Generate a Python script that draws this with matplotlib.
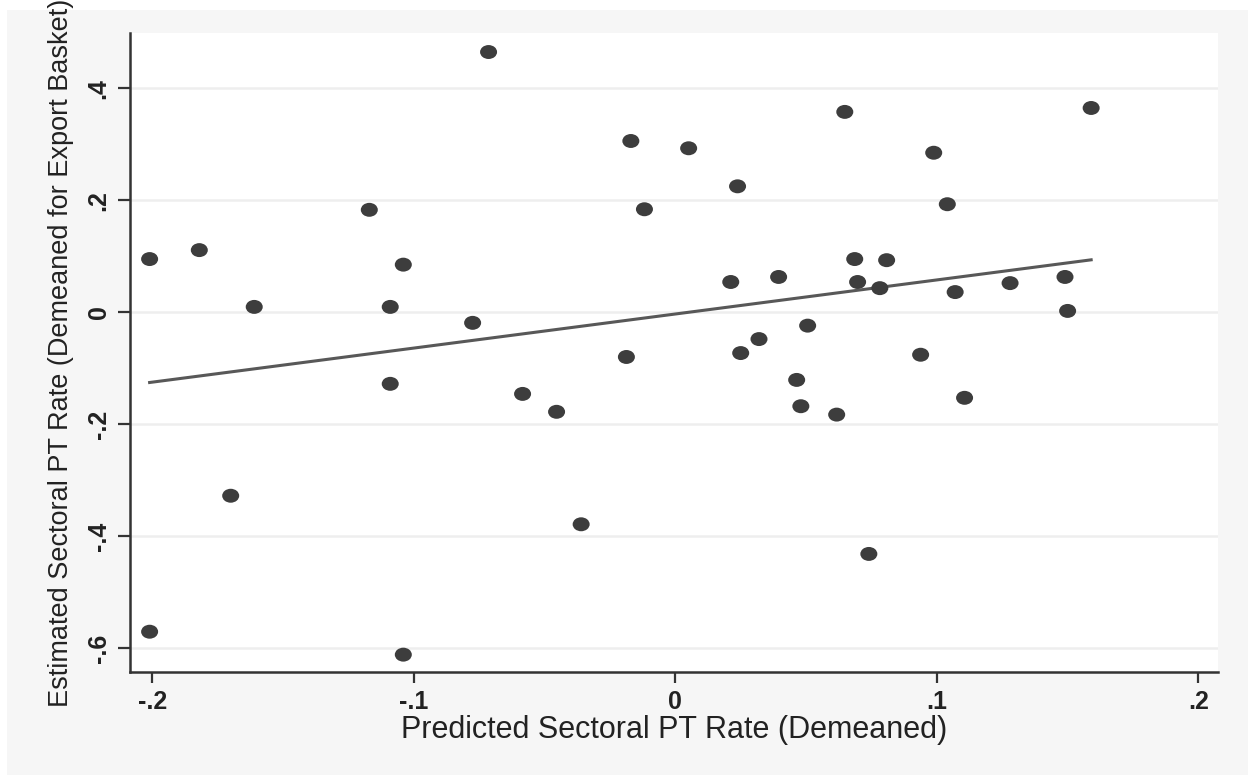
import matplotlib.pyplot as plt
import numpy as np
from matplotlib.patches import Rectangle
from matplotlib.path import Path

# predicted sectoral PT rate (demeaned) vs estimated sectoral PT rate
predicted = [-0.201, -0.182, -0.161, -0.117, -0.104, -0.109, -0.109, -0.170, -0.201, -0.104,
             -0.0714, -0.0775, -0.0584, -0.0454, -0.036, -0.017, -0.0118, -0.0187, 0.0051, 0.0238,
             0.0212, 0.025, 0.032, 0.0395, 0.0506, 0.0464, 0.048, 0.0617, 0.0648, 0.0686,
             0.0697, 0.0808, 0.0782, 0.074, 0.0988, 0.104, 0.107, 0.0938, 0.1106, 0.128,
             0.149, 0.150, 0.159]
estimated = [0.095, 0.111, 0.0095, 0.183, 0.085, 0.0095, -0.128, -0.328, -0.571, -0.612,
             0.465, -0.019, -0.146, -0.178, -0.379, 0.306, 0.184, -0.080, 0.293, 0.225,
             0.054, -0.073, -0.048, 0.063, -0.024, -0.121, -0.168, -0.183, 0.358, 0.095,
             0.054, 0.093, 0.043, -0.432, 0.285, 0.193, 0.036, -0.076, -0.153, 0.052,
             0.063, 0.0023, 0.365]

# fitted line
fit_slope = 0.609
fit_intercept = -0.0032

x_ticks = [-0.2, -0.1, 0, 0.1, 0.2]
x_ticklabels = ['-.2', '-.1', '0', '.1', '.2']
y_ticks = [-0.6, -0.4, -0.2, 0, 0.2, 0.4]
y_ticklabels = ['-.6', '-.4', '-.2', '0', '.2', '.4']

plt.rcParams['font.family'] = ['Liberation Sans', 'DejaVu Sans']

fig = plt.figure(figsize=(12.5, 7.76), dpi=100, facecolor='white')
# light gray graph region like stata
fig.patches.append(Rectangle((7 / 1250, 1 - 775 / 776), 1241 / 1250, 765 / 776,
                             transform=fig.transFigure, facecolor='#f6f6f6',
                             edgecolor='none', zorder=-10))

ax = fig.add_axes([130 / 1250, 1 - 672 / 776, 1088 / 1250, 639 / 776])
ax.set_facecolor('white')

# dots are a bit wider than tall in the reference
circ = Path.unit_circle()
oval = Path(circ.vertices * np.array([1.0, 0.82]), circ.codes)

ax.scatter(predicted, estimated, s=150, marker=oval, color='#3d3d3d', edgecolors='none', zorder=3)

xs = np.array([min(predicted), max(predicted)])
ax.plot(xs, fit_intercept + fit_slope * xs, color='#585858', lw=2.2, zorder=2)

ax.set_xlim(-0.2085, 0.2075)
ax.set_ylim(-0.643, 0.499)

ax.set_xticks(x_ticks)
ax.set_xticklabels(x_ticklabels)
ax.set_yticks(y_ticks)
ax.set_yticklabels(y_ticklabels, rotation=90, va='center')

ax.tick_params(axis='x', length=8, width=1.6, color='#333333', labelsize=18, pad=5)
ax.tick_params(axis='y', length=9, width=1.6, color='#333333', labelsize=18, pad=5)
for lbl in ax.get_xticklabels() + ax.get_yticklabels():
    lbl.set_fontweight('bold')
    lbl.set_color('#222222')

ax.grid(axis='y', color='#eeeeee', lw=1.8)
ax.set_axisbelow(True)

for side in ['top', 'right']:
    ax.spines[side].set_visible(False)
for side in ['left', 'bottom']:
    ax.spines[side].set_color('#333333')
    ax.spines[side].set_linewidth(1.8)

ax.set_xlabel('Predicted Sectoral PT Rate (Demeaned)', fontsize=22, color='#222222', labelpad=1)
ax.set_ylabel('Estimated Sectoral PT Rate (Demeaned for Export Basket)', fontsize=19.5,
              color='#222222', labelpad=9)

fig.savefig('out.png', dpi=100, facecolor=fig.get_facecolor())
